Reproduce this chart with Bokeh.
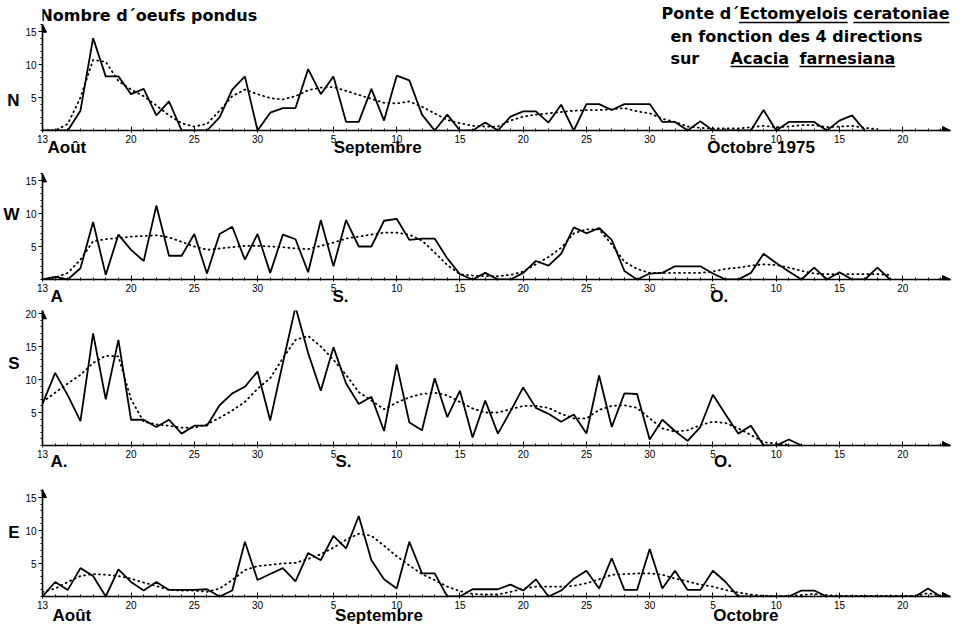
from bokeh.plotting import figure
from bokeh.models import FixedTicker, Label, Arrow, NormalHead, Range1d, LinearAxis
from bokeh.layouts import column
from bokeh.embed import file_html
from bokeh.resources import INLINE

# ---------------- data (day 0 = 13 August 1975) ----------------
DAY_TICKS = [0, 7, 12, 17, 23, 28, 33, 38, 43, 48, 53, 58, 63, 68]
DAY_TICK_LABELS = ["13", "20", "25", "30", "5", "10", "15", "20", "25", "30", "5", "10", "15", "20"]

N_DAILY = [0, 0, 0, 3, 14, 8.2, 8.2, 5.5, 6.3, 2.3, 4.4, 0, 0, 0, 2, 6.2, 8.2, 0, 2.7, 3.4,
           3.4, 9.3, 5.5, 8.2, 1.3, 1.3, 6.3, 1.5, 8.3, 7.6, 2.4, 0, 2.4, 0, 0, 1.2, 0, 2.1, 2.9, 2.9,
           1.2, 3.9, 0, 4, 4, 3.1, 4, 4, 4, 1.3, 1.3, 0, 1.4, 0, 0, 0, 0, 3.1, 0, 1.3,
           1.3, 1.3, 0, 1.5, 2.3, 0]
N_SMOOTH = [0, 0, 1, 5, 10.7, 10.4, 7.5, 6.2, 5.2, 3.8, 2.3, 1.1, 0.6, 1, 3, 5.2, 6.2, 5.5, 4.9, 4.7,
            5.2, 6.1, 6.5, 6.6, 6, 5.4, 4.8, 4.2, 4.1, 4.4, 3.6, 2.6, 1.6, 1.1, 0.7, 0.6, 0.6, 1.5, 2.1, 2.4,
            2.6, 2.8, 3.0, 3.1, 3.1, 3.2, 3.4, 2.9, 2.6, 1.8, 1.3, 0.6, 0.4, 0.3, 0.3, 0.3, 0.5, 0.7, 0.5, 0.6,
            0.8, 0.8, 0.5, 0.6, 0.7, 0.4, 0.2]

W_DAILY = [0, 0.4, 0, 1.7, 8.7, 0.7, 6.8, 4.5, 2.8, 11.2, 3.6, 3.6, 6.9, 0.9, 6.9, 8, 3, 6.9, 1, 6.8,
           6.1, 1.1, 9, 2, 9, 5, 5, 8.9, 9.2, 6, 6.2, 6.2, 3.2, 0.8, 0, 1, 0, 0, 1, 2.8,
           2.1, 3.9, 7.9, 7, 7.8, 6, 1.3, 0, 0.9, 1, 2, 2, 2, 0.9, 0, 0, 1, 3.9, 2.5, 1.2,
           0, 1.8, 0, 1.1, 0, 0, 1.8, 0]
W_SMOOTH = [0, 0.3, 1, 3, 5.8, 6.1, 6.3, 6.5, 6.6, 6.7, 6.4, 5.7, 5, 4.5, 4.7, 4.9, 5.1, 5.1, 5, 4.9,
            4.7, 4.6, 5.1, 5.6, 6.2, 6.5, 6.8, 7.1, 7.1, 6.8, 5.9, 4.1, 2.2, 0.8, 0.6, 0.5, 0.5, 0.7, 1.2, 2.3,
            3.4, 4.8, 7, 7.6, 7.6, 5.3, 2.7, 1.6, 1, 1, 1, 1, 1, 1.2, 1.6, 1.8, 2.1, 2.3, 2.2, 1.8,
            1.3, 0.9, 0.8, 0.8, 0.8, 0.8, 0.8, 0.7]

S_DAILY = [6.3, 11, 7.6, 3.7, 17, 7, 16, 3.9, 3.9, 2.8, 3.9, 1.8, 3, 3, 6.1, 7.9, 8.9, 11.2, 3.8, 12.5,
           21, 14, 8.3, 14.9, 9.4, 6.3, 7.4, 2.2, 12.3, 3.5, 2.3, 10.2, 4.3, 8.3, 1.2, 6.8, 1.8, 5.2, 8.8, 5.7,
           4.8, 3.6, 4.7, 1.8, 10.6, 2.8, 7.9, 7.8, 0.9, 3.9, 2.2, 0.7, 2.8, 7.7, 4.7, 1.8, 3, 0, 0, 0.9, 0]
S_SMOOTH = [6.6, 8, 9.4, 10.7, 12.5, 13.6, 13.5, 7, 3.6, 3.2, 3, 2.7, 2.7, 3.2, 4.2, 5.3, 6.6, 8.6, 10.2, 13.2,
            16, 16.6, 15, 13, 10.7, 8.1, 6.8, 5.5, 6.5, 7.3, 7.8, 8, 7.6, 6.6, 5.6, 5.0, 5.0, 5.5, 6, 6,
            5.7, 4.8, 4.1, 4.1, 5.4, 6, 6.1, 5.7, 4.1, 2.6, 2.1, 2.3, 3.1, 3.6, 3.4, 2.6, 1.6, 0.5, 0.3, 0.1]

E_DAILY = [0, 2.2, 1, 4.3, 3.1, 0, 4.1, 2.2, 0.9, 2.2, 1, 1, 1, 1.1, 0, 0.9, 8.3, 2.5, 3.4, 4.3,
           2.3, 6.6, 5.5, 9.2, 7.3, 12.2, 5.5, 2.6, 1.2, 8.3, 3.5, 3.5, 0, 0, 1.1, 1.1, 1.1, 1.8, 0.9, 2.6,
           0, 0.9, 2.7, 3.9, 1.2, 5.8, 1, 1, 7.2, 1.2, 3.9, 1, 1, 3.9, 2.2, 0, 0, 0, 0, 0,
           0.9, 0.9, 0, 0, 0, 0, 0, 0, 0, 0, 1.2, 0]
E_SMOOTH = [0.7, 1.2, 2.2, 3.1, 3.4, 3.3, 3.1, 2.7, 2.1, 1.6, 1, 0.9, 0.9, 0.7, 1.2, 2.5, 4, 4.6, 4.8, 5,
            5.1, 5.7, 6.4, 7.4, 8.6, 9.5, 9.2, 7.7, 6.1, 4.7, 3.4, 2.5, 1.5, 0.8, 0.4, 0.3, 0.3, 0.7, 1.2, 1.5,
            1.5, 1.5, 1.6, 2, 2.6, 3.3, 3.4, 3.5, 3.5, 3.3, 2.7, 2.3, 1.8, 1.5, 1, 0.6, 0.3, 0.1, 0, 0.1,
            0.2, 0.4, 0.2, 0.1, 0.1, 0.1, 0.1, 0.1, 0.1, 0.1, 0.5, 0.1]

# month names under each panel (day of label centre, text)
N_MONTHS = {1.93: "Août", 26.5: "Septembre", 56.8: "Octobre 1975"}
W_MONTHS = {1.11: "A", 23.56: "S.", 53.5: "O."}
S_MONTHS = {1.3: "A.", 23.8: "S.", 53.8: "O."}
E_MONTHS = {2.32: "Août", 26.6: "Septembre", 55.6: "Octobre"}

# ---------------- layout constants ----------------
PX_DAY = 12.65
PX_UNIT = 6.6
LEFT, FRAME_W, RIGHT = 40, 908, 14
X_END = FRAME_W / PX_DAY
FONT = "Liberation Sans"
TFONT = "DejaVu Sans"


def panel(daily, smooth, frame_h, top, bottom, yticks, axis_top,
          letter, letter_y, months, month_standoff):
    ymax = frame_h / PX_UNIT
    p = figure(frame_width=FRAME_W, frame_height=frame_h,
               x_range=Range1d(0, X_END), y_range=Range1d(0, ymax),
               output_backend="svg", toolbar_location=None,
               min_border_left=LEFT, min_border_right=RIGHT,
               min_border_top=top, min_border_bottom=bottom)
    p.title = None
    p.outline_line_color = None
    p.xgrid.visible = False
    p.ygrid.visible = False
    p.background_fill_color = "white"
    p.border_fill_color = "white"

    p.line(list(range(len(smooth))), smooth, line_width=1.8, line_dash="1 4",
           color="black", line_cap="round")
    p.line(list(range(len(daily))), daily, line_width=1.8, color="black")

    xa = p.xaxis[0]
    xa.ticker = FixedTicker(ticks=DAY_TICKS, minor_ticks=list(range(0, 72)))
    xa.major_label_overrides = {t: s for t, s in zip(DAY_TICKS, DAY_TICK_LABELS)}
    xa.axis_line_width = 1.6
    xa.major_tick_in = 4
    xa.major_tick_out = 2
    xa.minor_tick_in = 2
    xa.minor_tick_out = 1
    xa.major_label_standoff = 2
    xa.major_label_text_font = FONT
    xa.major_label_text_font_size = "10px"
    xa.major_label_text_color = "black"

    ya = p.yaxis[0]
    ya.ticker = FixedTicker(ticks=yticks, minor_ticks=list(range(0, int(axis_top) + 1)))
    ya.bounds = (0, axis_top)
    ya.axis_line_width = 1.6
    ya.major_tick_in = 0
    ya.major_tick_out = 4
    ya.minor_tick_in = 0
    ya.minor_tick_out = 2
    ya.major_label_standoff = 2
    ya.major_label_text_font = FONT
    ya.major_label_text_font_size = "10px"
    ya.major_label_text_color = "black"

    # month names: a second, line-less axis below
    ma = LinearAxis(ticker=FixedTicker(ticks=list(months.keys()), minor_ticks=[]),
                    major_label_overrides=months,
                    axis_line_color=None, major_tick_line_color=None,
                    minor_tick_line_color=None, major_tick_out=0, major_tick_in=0,
                    major_label_standoff=month_standoff,
                    major_label_text_font=FONT, major_label_text_font_size="17px",
                    major_label_text_font_style="bold", major_label_text_color="black")
    p.add_layout(ma, "below")

    # direction letter: a second, line-less axis on the left
    la = LinearAxis(ticker=FixedTicker(ticks=[letter_y], minor_ticks=[]),
                    major_label_overrides={letter_y: letter},
                    axis_line_color=None, major_tick_line_color=None,
                    minor_tick_line_color=None, major_tick_out=0, major_tick_in=0,
                    major_label_standoff=3,
                    major_label_text_font=FONT, major_label_text_font_size="17px",
                    major_label_text_font_style="bold", major_label_text_color="black")
    p.add_layout(la, "left")

    p.add_layout(Arrow(end=NormalHead(size=8, fill_color="black", line_color="black"),
                       x_start=0, y_start=axis_top - 1, x_end=0, y_end=axis_top,
                       line_width=1.6))
    p.add_layout(Arrow(end=NormalHead(size=8, fill_color="black", line_color="black"),
                       x_start=X_END - 1, y_start=0, x_end=X_END, y_end=0,
                       line_width=1.6))
    return p


def lab(p, text, x, y, size="16px", align="left"):
    p.add_layout(Label(x=x, y=y, text=text, text_font=TFONT, text_font_size=size,
                       text_font_style="bold", text_align=align,
                       text_baseline="middle", text_color="black"))


pN = panel(N_DAILY, N_SMOOTH, 130, 0, 35, [5, 10, 15], 16.1, "N", 4.55, N_MONTHS, -8)
pW = panel(W_DAILY, W_SMOOTH, 106, 8, 26, [5, 10, 15], 16.0, "W", 9.85, W_MONTHS, -8)
pS = panel(S_DAILY, S_SMOOTH, 135, 2, 38, [5, 10, 15, 20], 20.4, "S", 12.4, S_MONTHS, -9)
pE = panel(E_DAILY, E_SMOOTH, 107, 6, 31, [5, 10, 15], 16.2, "E", 9.7, E_MONTHS, -6)

# titles (N panel: data y = (130 - page_y) / 6.6, data x = (page_x - 40) / 12.65)
lab(pN, "Nombre d´oeufs pondus", -0.24, 17.42, "16px")
lab(pN, "Ponte d´Ectomyelois ceratoniae", 71.7, 17.73, "16px", "right")
lab(pN, "en fonction des 4 directions", 49.64, 14.24, "16px")
lab(pN, "sur", 49.64, 10.9, "16px")
lab(pN, "Acacia", 54.39, 10.9, "16px")
lab(pN, "farnesiana", 59.84, 10.9, "16px")
pN.segment(x0=[55.07, 64.1, 54.39, 59.84], y0=[16.36, 16.36, 9.7, 9.7],
           x1=[63.65, 71.7, 59.0, 67.4], y1=[16.36, 16.36, 9.7, 9.7],
           line_width=1.3, color="black")

layout = column(pN, pW, pS, pE, spacing=0)
open("out.html", "w").write(file_html(layout, INLINE))
